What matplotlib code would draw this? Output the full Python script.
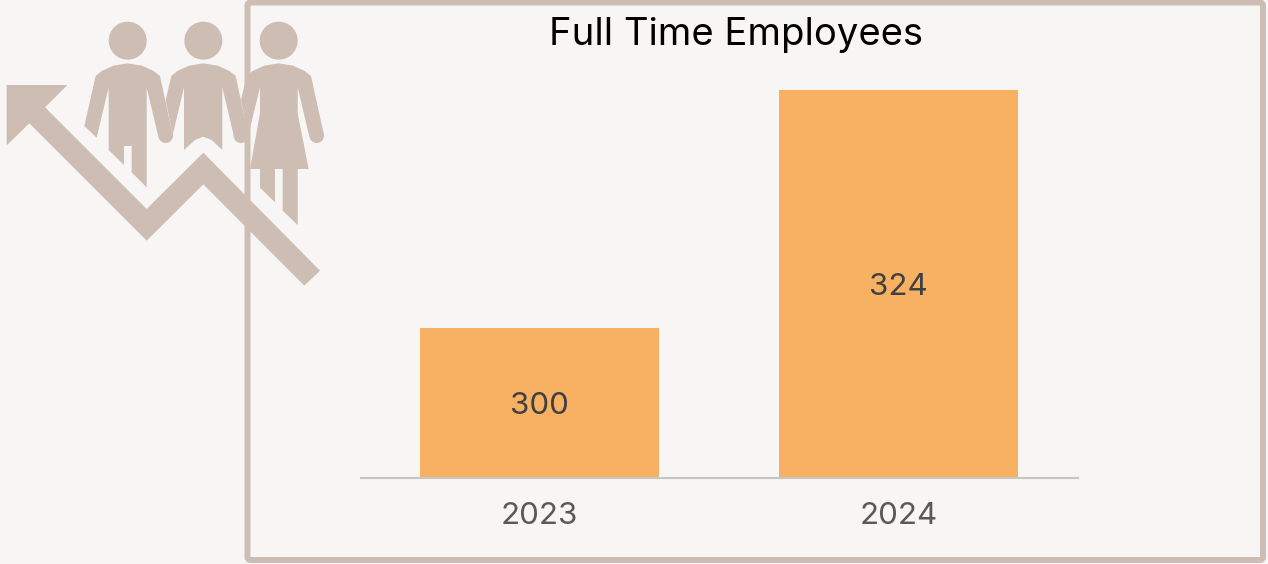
import matplotlib.pyplot as plt
from matplotlib.patches import Polygon, Circle, FancyBboxPatch

# ---------------------------------------------------------------------
# Chart data
# ---------------------------------------------------------------------
years = ["2023", "2024"]
employees = [300, 324]
title = "Full Time Employees"

# Colours
bg_color = "#F7F6F4"
bar_color = "#F8B162"
icon_color = "#CDBDB3"
axis_color = "#C8C6C3"

plt.rcParams["font.family"] = ["Inter", "DejaVu Sans"]

W, H = 1268, 564
fig = plt.figure(figsize=(W / 100, H / 100), dpi=100, facecolor=bg_color)

# ---------------------------------------------------------------------
# Decoration layer, in pixels of the picture (y goes down)
# ---------------------------------------------------------------------
deco = fig.add_axes([0, 0, 1, 1], zorder=1)
deco.set_xlim(0, W)
deco.set_ylim(H, 0)
deco.axis("off")

# Frame round the chart
deco.add_patch(FancyBboxPatch((247.5, 2.5), 1015.5, 557.5, boxstyle="round,pad=0,rounding_size=3",
                              fc="none", ec=icon_color, lw=4.3))


def shape(points):
    # points were read on a 3x crop of the icon
    deco.add_patch(Polygon([(x / 3, y / 3) for x, y in points], closed=True, fc=icon_color, ec="none"))


def dot(x, y, r):
    deco.add_patch(Circle((x / 3, y / 3), r / 3, fc=icon_color, ec="none"))


def shoulders(cx):
    return [(cx - 96, 228), (cx - 78, 213), (cx - 43, 197), (cx, 190),
            (cx + 43, 197), (cx + 78, 213), (cx + 97, 228)]


# Arrow
shape([(20, 255), (202, 255), (135, 322), (440, 627), (610, 458), (960, 812), (913, 857),
       (610, 553), (440, 722), (88, 370), (20, 436)])

# Left man
dot(383, 122, 57)
shape([(253, 378)] + shoulders(383) + [(518, 405), (475, 410), (440, 262), (440, 562), (395, 517),
                                       (395, 438), (372, 438), (372, 495), (326, 450), (326, 262), (290, 413)])
dot(497, 407, 22)

# Middle man
dot(610, 122, 57)
shape([(497, 300)] + shoulders(610) + [(745, 405), (702, 410), (667, 262), (667, 450), (635, 420), (610, 410),
                                       (585, 420), (552, 450), (552, 262), (518, 405)])
dot(723, 407, 22)

# Woman
dot(836, 122, 57)
shape([(723, 300)] + shoulders(836) + [(972, 405), (928, 410), (893, 262), (893, 340), (926, 507), (893, 507),
                                       (893, 675), (848, 632), (848, 507), (825, 507), (825, 607), (780, 563),
                                       (780, 507), (750, 507), (780, 340), (780, 262), (745, 405)])
dot(950, 407, 22)

deco.text(736, 35, title, ha="center", va="center", fontsize=27.5, color="black")

# ---------------------------------------------------------------------
# Bars (the value axis does not start at zero)
# ---------------------------------------------------------------------
left, right, top, bottom = 360.5, 1077.5, 90, 477.5
ax = fig.add_axes([left / W, 1 - bottom / H, (right - left) / W, (bottom - top) / H], zorder=2)
ax.patch.set_alpha(0)

bars = ax.bar(years, employees, width=0.667, color=bar_color)
ax.set_xlim(-0.5, 1.5)
ax.set_ylim(285, 324)

for b, v in zip(bars, employees):
    ax.text(b.get_x() + b.get_width() / 2, (285 + v) / 2 - 0.3, str(v), ha="center", va="center",
            fontsize=22.5, color="#404040")

for side in ["top", "left", "right"]:
    ax.spines[side].set_visible(False)
ax.spines["bottom"].set_color(axis_color)
ax.spines["bottom"].set_linewidth(1.5)
ax.set_yticks([])
ax.tick_params(axis="x", length=0, pad=17.5, labelsize=22.5, labelcolor="#595959")

fig.savefig("out.png", dpi=100, facecolor=bg_color)
